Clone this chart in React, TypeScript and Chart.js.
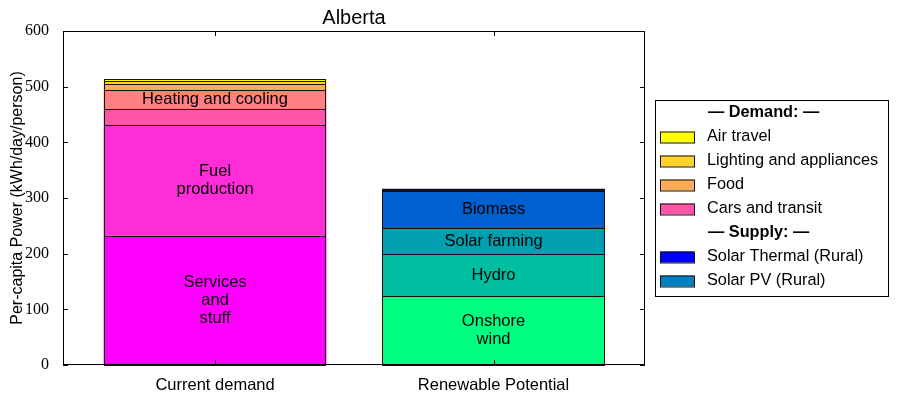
import React, { useEffect, useRef } from "react";
import { Chart, registerables } from "chart.js";

Chart.register(...registerables);

const categories = ["Current demand", "Renewable Potential"];

const demandNames = ["Services and stuff", "Fuel production", "Cars and transit", "Heating and cooling", "Food", "Lighting and appliances", "Air travel"];
const demandValues = [232, 199, 29, 34, 10, 5.5, 3.5];
const demandColors = ["#FF00FF", "#FF2CD9", "#FF55A8", "#FF8080", "#FFAA55", "#FFD42A", "#FFFF00"];
const demandSegLabels = [["Services", "and", "stuff"], ["Fuel", "production"], null, ["Heating and cooling"], null, null, null];

const supplyNames = ["Onshore wind", "Hydro", "Solar farming", "Biomass", "Solar PV (Rural)", "Solar Thermal (Rural)"];
const supplyValues = [124, 75, 47, 67, 0.5, 3];
const supplyColors = ["#00FF80", "#00BFA0", "#00A0B0", "#0060D0", "#0080C0", "#0000FF"];
const supplySegLabels = [["Onshore", "wind"], ["Hydro"], ["Solar farming"], ["Biomass"], null, null];

const legendRows: { text: string; color: string | null }[] = [
  { text: "\u2014 Demand: \u2014", color: null },
  { text: "Air travel", color: "#FFFF00" },
  { text: "Lighting and appliances", color: "#FFD42A" },
  { text: "Food", color: "#FFAA55" },
  { text: "Cars and transit", color: "#FF55A8" },
  { text: "\u2014 Supply: \u2014", color: null },
  { text: "Solar Thermal (Rural)", color: "#0000FF" },
  { text: "Solar PV (Rural)", color: "#0080C0" },
];

const yTicks = [0, 100, 200, 300, 400, 500, 600];
const chartTitle = "Alberta";
const yTitle = "Per-capita Power (kWh/day/person)";

const SANS = "'Liberation Sans', Arial, sans-serif";
const SERIF = "'Liberation Serif', 'DejaVu Serif', serif";

export default function App() {
  const ref = useRef<HTMLCanvasElement | null>(null);
  useEffect(() => {
    const canvas = ref.current!;
    const segLabels: (string[] | null)[] = [];
    const datasets: any[] = [];
    demandNames.forEach((n, i) => {
      datasets.push({
        label: n,
        data: [{ x: 0, y: demandValues[i] }],
        backgroundColor: demandColors[i],
        borderWidth: 0,
      });
      segLabels.push(demandSegLabels[i]);
    });
    supplyNames.forEach((n, i) => {
      datasets.push({
        label: n,
        data: [{ x: 1, y: supplyValues[i] }],
        backgroundColor: supplyColors[i],
        borderWidth: 0,
      });
      segLabels.push(supplySegLabels[i]);
    });

    const deco = {
      id: "deco",
      afterDatasetsDraw(chart: any) {
        const ctx = chart.ctx;
        const ca = chart.chartArea;
        ctx.save();
        ctx.strokeStyle = "#111";
        ctx.lineWidth = 1;
        chart.data.datasets.forEach((_d: any, di: number) => {
          const el = chart.getDatasetMeta(di).data[0];
          if (!el) return;
          const x0 = Math.round(el.x - el.width / 2) + 0.5;
          const x1 = Math.round(el.x + el.width / 2) - 0.5;
          const yTop = Math.round(el.y) + 0.5;
          const yBot = Math.round(el.base) + 0.5;
          ctx.strokeRect(x0, yTop, x1 - x0, Math.max(0, yBot - yTop));
        });
        ctx.fillStyle = "#000";
        ctx.font = `16.5px ${SANS}`;
        ctx.textAlign = "center";
        ctx.textBaseline = "middle";
        chart.data.datasets.forEach((_d: any, di: number) => {
          const lines = segLabels[di];
          if (!lines) return;
          const el = chart.getDatasetMeta(di).data[0];
          if (!el) return;
          const cy = (el.y + el.base) / 2;
          const lh = 18;
          lines.forEach((ln, li) => {
            ctx.fillText(ln, el.x, cy + (li - (lines.length - 1) / 2) * lh);
          });
        });
        ctx.strokeStyle = "#000";
        ctx.lineWidth = 1;
        ctx.strokeRect(ca.left + 0.5, ca.top + 0.5, ca.right - ca.left - 1, ca.bottom - ca.top - 1);
        const ys = chart.scales.y;
        const xs = chart.scales.x;
        ctx.beginPath();
        yTicks.forEach((t) => {
          const py = Math.round(ys.getPixelForValue(t)) + 0.5;
          ctx.moveTo(ca.left, py);
          ctx.lineTo(ca.left + 5, py);
          ctx.moveTo(ca.right, py);
          ctx.lineTo(ca.right - 5, py);
        });
        categories.forEach((_c, i) => {
          const px = Math.round(xs.getPixelForValue(i)) + 0.5;
          ctx.moveTo(px, ca.bottom);
          ctx.lineTo(px, ca.bottom - 5);
          ctx.moveTo(px, ca.top);
          ctx.lineTo(px, ca.top + 5);
        });
        ctx.stroke();
        ctx.font = `20px ${SANS}`;
        ctx.textBaseline = "middle";
        ctx.fillText(chartTitle, (ca.left + ca.right) / 2, 18);
        const lx = 655, ly = 100, lw = 233, lhgt = 196;
        ctx.fillStyle = "#fff";
        ctx.fillRect(lx, ly, lw, lhgt);
        ctx.strokeRect(lx + 0.5, ly + 0.5, lw, lhgt);
        ctx.textAlign = "left";
        legendRows.forEach((r, i) => {
          const yc = 113 + i * 24;
          if (r.color) {
            ctx.fillStyle = r.color;
            ctx.fillRect(660, yc - 5.5, 34, 11);
            ctx.strokeStyle = "#111";
            ctx.strokeRect(660.5, yc - 5, 34, 11);
            ctx.fillStyle = "#000";
            ctx.font = `16.3px ${SANS}`;
            ctx.fillText(r.text, 707, yc);
          } else {
            ctx.fillStyle = "#000";
            ctx.font = `bold 16.3px ${SANS}`;
            ctx.fillText(r.text, 708, yc);
          }
        });
        ctx.restore();
      },
    };

    const chart = new Chart(canvas, {
      type: "bar",
      data: { datasets },
      plugins: [deco],
      options: {
        responsive: false,
        animation: false,
        devicePixelRatio: 1,
        layout: { padding: { top: 31, right: 253, left: 0, bottom: 0 } },
        plugins: { legend: { display: false }, tooltip: { enabled: false }, title: { display: false } },
        datasets: { bar: { barPercentage: 0.8, categoryPercentage: 1 } },
        scales: {
          x: {
            type: "linear",
            stacked: true,
            offset: false,
            min: -0.546,
            max: 1.544,
            grid: { display: false, offset: false },
            border: { display: false },
            afterBuildTicks: (s: any) => {
              s.ticks = categories.map((_c, i) => ({ value: i }));
            },
            afterFit: (s: any) => {
              s.height = 31;
            },
            ticks: {
              autoSkip: false,
              maxRotation: 0,
              padding: 3,
              color: "#000",
              font: { family: SANS, size: 16.5 },
              callback: (v: any) => categories[Math.round(Number(v))] ?? "",
            },
          },
          y: {
            stacked: true,
            min: 0,
            max: 600,
            grid: { display: false },
            border: { display: false },
            afterBuildTicks: (s: any) => {
              s.ticks = yTicks.map((v) => ({ value: v }));
            },
            afterFit: (s: any) => {
              s.width = 63;
            },
            ticks: {
              padding: 6,
              color: "#000",
              font: { family: SERIF, size: 16 },
            },
            title: {
              display: true,
              text: yTitle,
              color: "#000",
              padding: { top: 8, bottom: 0 },
              font: { family: SANS, size: 16 },
            },
          },
        },
      },
    });
    return () => chart.destroy();
  }, []);

  return (
    <div style={{ position: "absolute", left: 0, top: 0, width: 898, height: 396, background: "#fff" }}>
      <canvas ref={ref} width={898} height={396} style={{ width: 898, height: 396, display: "block" }} />
    </div>
  );
}
